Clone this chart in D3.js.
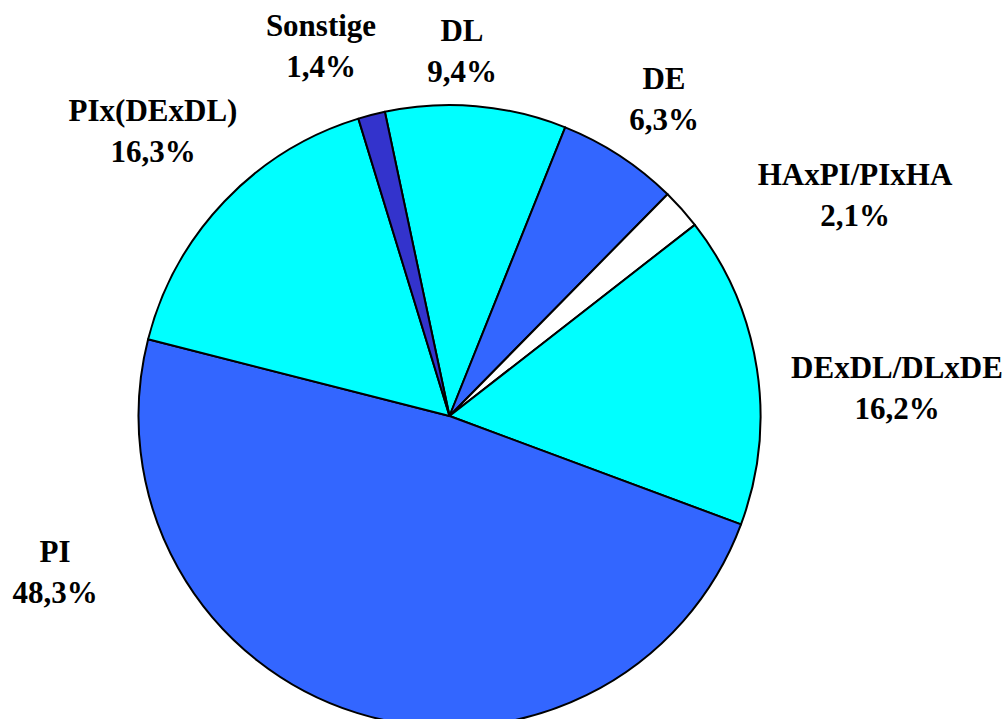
<!DOCTYPE html>
<html>
<head>
  <meta charset="utf-8">
  <script src="https://d3js.org/d3.v7.min.js"></script>
  <style>
    body { margin: 0; background: #fff; }
  </style>
</head>
<body>
<div id="pie"></div>
<script>
  // slices clockwise, starting just left of 12 o'clock
  const categories = ["DL", "DE", "HAxPI/PIxHA", "DExDL/DLxDE", "PI", "PIx(DExDL)", "Sonstige"];
  const shares = [9.4, 6.3, 2.1, 16.2, 48.3, 16.3, 1.4];
  const colors = ["#00FFFF", "#3366FF", "#FFFFFF", "#00FFFF", "#3366FF", "#00FFFF", "#3333CC"];
  const labelText = ["9,4%", "6,3%", "2,1%", "16,2%", "48,3%", "16,3%", "1,4%"];
  // label centres (x) and first-line baseline (y)
  const labelPos = [[462, 41], [664, 89], [855, 185], [897, 378], [55, 562], [153, 121], [321, 36]];

  const width = 1004;
  const height = 719;
  const cx = 449.5, cy = 416, radius = 311;

  const svg = d3.select("#pie")
    .append("svg")
    .attr("width", width)
    .attr("height", height);

  const g = svg.append("g")
    .attr("transform", `translate(${cx}, ${cy})`);

  const start = -12 * Math.PI / 180;
  const pie = d3.pie().sort(null).value(d => d)
    .startAngle(start).endAngle(start + 2 * Math.PI);
  const arc = d3.arc().innerRadius(0).outerRadius(radius);

  g.selectAll("path")
    .data(pie(shares))
    .join("path")
    .attr("d", arc)
    .attr("fill", (d, i) => colors[i])
    .attr("stroke", "#000")
    .attr("stroke-width", 2)
    .attr("stroke-linejoin", "round");

  const labels = svg.selectAll("g.label")
    .data(categories)
    .join("g")
    .attr("class", "label")
    .attr("transform", (d, i) => `translate(${labelPos[i][0]}, ${labelPos[i][1]})`)
    .attr("font-family", "'Liberation Serif', 'Times New Roman', serif")
    .attr("font-weight", "bold")
    .attr("font-size", 31)
    .attr("fill", "#000");

  labels.append("text")
    .attr("text-anchor", "middle")
    .text(d => d);

  labels.append("text")
    .attr("text-anchor", "middle")
    .attr("y", 41)
    .text((d, i) => labelText[i]);
</script>
</body>
</html>
